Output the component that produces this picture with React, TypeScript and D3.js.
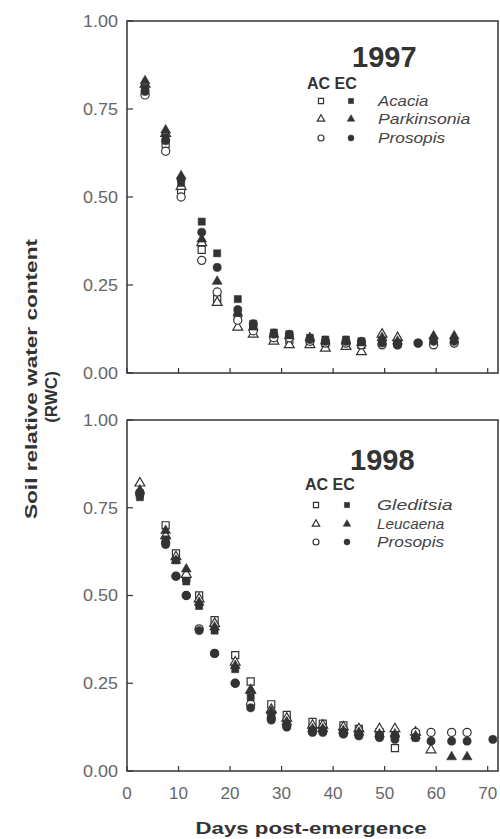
import * as d3 from 'd3'

// 1997 sampling days and soil RWC per species / CO2 treatment
const days1997 = [3.5, 7.5, 10.5, 14.5, 17.5, 21.5, 24.5, 28.5, 31.5, 35.5, 38.5, 42.5, 45.5, 49.5, 52.5, 56.5, 59.5, 63.5]
const acaciaAC = [0.8, 0.65, 0.52, 0.35, 0.21, 0.16, 0.13, 0.1, 0.095, 0.09, 0.085, 0.08, 0.08, 0.09, 0.085, null, null, null]
const acaciaEC = [0.81, 0.67, 0.54, 0.43, 0.34, 0.21, 0.14, 0.115, 0.11, 0.1, 0.095, 0.095, 0.09, 0.09, 0.085, null, null, null]
const parkinsoniaAC = [0.82, 0.68, 0.53, 0.37, 0.2, 0.13, 0.11, 0.09, 0.08, 0.08, 0.07, 0.075, 0.06, 0.11, 0.1, null, null, null]
const parkinsoniaEC = [0.83, 0.69, 0.56, 0.38, 0.26, 0.17, 0.13, 0.11, 0.105, 0.1, 0.09, 0.09, 0.085, 0.1, 0.09, null, 0.105, 0.105]
const prosopisAC97 = [0.79, 0.63, 0.5, 0.32, 0.23, 0.15, 0.12, 0.1, 0.1, 0.09, 0.085, 0.085, 0.08, 0.08, 0.08, 0.085, 0.08, 0.085]
const prosopisEC97 = [0.8, 0.66, 0.55, 0.4, 0.3, 0.18, 0.14, 0.11, 0.11, 0.095, 0.09, 0.09, 0.09, 0.085, 0.08, 0.085, 0.09, 0.09]

// 1998
const days1998 = [2.5, 7.5, 9.5, 11.5, 14, 17, 21, 24, 28, 31, 36, 38, 42, 45, 49, 52, 56, 59, 63, 66, 71]
const gleditsiaAC = [0.79, 0.7, 0.62, 0.55, 0.5, 0.43, 0.33, 0.255, 0.19, 0.16, 0.14, 0.135, 0.13, 0.12, 0.11, 0.065, 0.105, null, null, null, null]
const gleditsiaEC = [0.78, 0.66, 0.6, 0.54, 0.47, 0.4, 0.29, 0.21, 0.16, 0.135, 0.115, 0.115, 0.11, 0.105, 0.1, 0.1, 0.095, null, null, null, null]
const leucaenaAC = [0.82, 0.67, 0.61, 0.56, 0.49, 0.42, 0.31, 0.23, 0.175, 0.15, 0.13, 0.13, 0.125, 0.12, 0.12, 0.12, 0.11, 0.06, null, null, null]
const leucaenaEC = [0.8, 0.685, 0.6, 0.575, 0.48, 0.41, 0.3, 0.23, 0.17, 0.14, 0.12, 0.12, 0.115, 0.11, 0.105, 0.105, 0.1, null, 0.04, 0.04, null]
const prosopisAC98 = [0.79, 0.65, 0.555, 0.5, 0.405, 0.335, 0.25, 0.19, 0.15, 0.13, 0.115, 0.115, 0.11, 0.105, 0.1, 0.1, 0.11, 0.11, 0.11, 0.11, null]
const prosopisEC98 = [0.79, 0.645, 0.555, 0.5, 0.4, 0.335, 0.25, 0.18, 0.145, 0.125, 0.11, 0.11, 0.105, 0.1, 0.095, 0.09, 0.095, 0.085, 0.085, 0.085, 0.09]

const yTickValues = [0, 0.25, 0.5, 0.75, 1]
const xTickValues = [0, 10, 20, 30, 40, 50, 60, 70]

const ink = '#333'
const left = 127
const right = 498
const x = d3.scaleLinear().domain([0, 72]).range([left, right])

const symbolFor = { square: d3.symbolSquare, triangle: d3.symbolTriangle, circle: d3.symbolCircle }
const markSize = { square: 50, triangle: 42, circle: 52 }
const keySize = { square: 26, triangle: 24, circle: 28 }

type Shape = 'square' | 'triangle' | 'circle'

const panels = [
  {
    year: '1997',
    top: 21,
    bottom: 373,
    days: days1997,
    species: [
      { name: 'Acacia', shape: 'square' as Shape, ac: acaciaAC, ec: acaciaEC },
      { name: 'Parkinsonia', shape: 'triangle' as Shape, ac: parkinsoniaAC, ec: parkinsoniaEC },
      { name: 'Prosopis', shape: 'circle' as Shape, ac: prosopisAC97, ec: prosopisEC97 },
    ],
    legend: { yearX: 352, yearY: 67, headY: 89, headX: 307, acX: 321, ecX: 351, textX: 378, rows: [101, 119, 138] },
    showX: false,
  },
  {
    year: '1998',
    top: 420,
    bottom: 771,
    days: days1998,
    species: [
      { name: 'Gleditsia', shape: 'square' as Shape, ac: gleditsiaAC, ec: gleditsiaEC },
      { name: 'Leucaena', shape: 'triangle' as Shape, ac: leucaenaAC, ec: leucaenaEC },
      { name: 'Prosopis', shape: 'circle' as Shape, ac: prosopisAC98, ec: prosopisEC98 },
    ],
    legend: { yearX: 350, yearY: 470, headY: 490, headX: 305, acX: 316, ecX: 347, textX: 377, rows: [505, 524, 542] },
    showX: true,
  },
]

function Marker({ shape, cx, cy, filled, size }: { shape: Shape; cx: number; cy: number; filled: boolean; size: number }) {
  const path = d3.symbol(symbolFor[shape], size)() || ''
  return (
    <path
      d={path}
      transform={`translate(${cx},${cy})`}
      fill={filled ? ink : '#fff'}
      stroke={ink}
      strokeWidth={filled ? 0.6 : 1.2}
    />
  )
}

function Panel({ p }: { p: (typeof panels)[number] }) {
  const y = d3.scaleLinear().domain([0, 1]).range([p.bottom, p.top])
  const fmt = d3.format('.2f')
  const L = p.legend
  return (
    <g>
      {/* open (AC) symbols first, filled (EC) on top */}
      {p.species.map((s) =>
        s.ac.map((v, i) =>
          v == null ? null : <Marker key={`ac-${s.name}-${i}`} shape={s.shape} cx={x(p.days[i])} cy={y(v)} filled={false} size={markSize[s.shape]} />
        )
      )}
      {p.species.map((s) =>
        s.ec.map((v, i) =>
          v == null ? null : <Marker key={`ec-${s.name}-${i}`} shape={s.shape} cx={x(p.days[i])} cy={y(v)} filled size={markSize[s.shape]} />
        )
      )}

      <rect x={left} y={p.top} width={right - left} height={p.bottom - p.top} fill="none" stroke={ink} strokeWidth={1.5} />

      {yTickValues.map((t) => (
        <g key={t}>
          <line x1={left} x2={left + 6} y1={y(t)} y2={y(t)} stroke={ink} strokeWidth={1.2} />
          <text x={118} y={y(t)} dy="0.35em" textAnchor="end" fontSize={17} fill="#666" textLength={35} lengthAdjust="spacingAndGlyphs">
            {fmt(t)}
          </text>
        </g>
      ))}
      {xTickValues.map((t) => (
        <g key={t}>
          <line x1={x(t)} x2={x(t)} y1={p.bottom} y2={p.bottom - 5} stroke={ink} strokeWidth={1.2} />
          {p.showX && (
            <text x={x(t)} y={p.bottom + 28} textAnchor="middle" fontSize={17} fill="#666">
              {t}
            </text>
          )}
        </g>
      ))}

      <text x={L.yearX} y={L.yearY} fontSize={29} fontWeight="bold" fill={ink}>
        {p.year}
      </text>
      <text x={L.headX} y={L.headY} fontSize={16} fontWeight="bold" fill={ink}>
        AC EC
      </text>
      {p.species.map((s, i) => (
        <g key={s.name}>
          <Marker shape={s.shape} cx={L.acX} cy={L.rows[i]} filled={false} size={keySize[s.shape]} />
          <Marker shape={s.shape} cx={L.ecX} cy={L.rows[i]} filled size={keySize[s.shape]} />
          <text x={L.textX} y={L.rows[i] + 5} fontSize={15} fontStyle="italic" fill="#444" textLength={s.name.length * 8.4} lengthAdjust="spacingAndGlyphs">
            {s.name}
          </text>
        </g>
      ))}
    </g>
  )
}

export default function App() {
  return (
    <div style={{ position: 'absolute', left: 0, top: 0 }}>
      <svg width={500} height={839} style={{ display: 'block', fontFamily: 'Arial, "Liberation Sans", Helvetica, sans-serif' }}>
        <rect width={500} height={839} fill="#fff" />
        {panels.map((p) => (
          <Panel key={p.year} p={p} />
        ))}
        <g transform="translate(0,397) rotate(-90)">
          <text x={18} y={37} textAnchor="middle" fontSize={17} fontWeight="bold" fill={ink} textLength={280} lengthAdjust="spacingAndGlyphs">
            Soil relative water content
          </text>
          <text x={0} y={57} textAnchor="middle" fontSize={17} fontWeight="bold" fill={ink}>
            (RWC)
          </text>
        </g>
        <text x={311} y={834} textAnchor="middle" fontSize={17} fontWeight="bold" fill={ink} textLength={231} lengthAdjust="spacingAndGlyphs">
          Days post-emergence
        </text>
      </svg>
    </div>
  )
}
